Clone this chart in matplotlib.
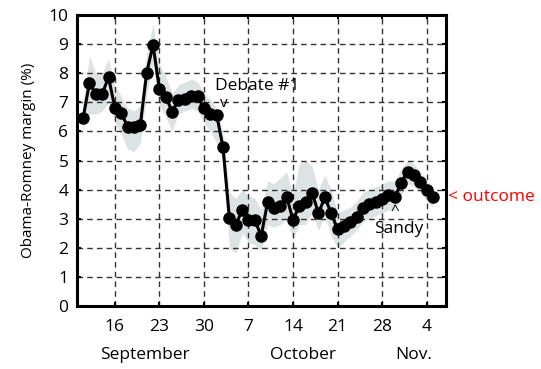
import matplotlib
matplotlib.use("Agg")
import matplotlib.pyplot as plt
import matplotlib.transforms as mtransforms
import numpy as np

plt.rcParams["font.family"] = ["Open Sans", "DejaVu Sans"]

# day index counted from Sep 1 (Sep 30 = 30, Oct 1 = 31, Nov 1 = 62)
days = np.arange(11, 67)
margin = [
    6.45, 7.67, 7.29, 7.29, 7.86, 6.81, 6.64, 6.16, 6.16, 6.22,
    8.02, 8.97, 7.45, 7.19, 6.68, 7.08, 7.10, 7.20, 7.22, 6.79,
    6.60, 6.57, 5.45, 3.01, 2.78, 3.30, 2.96, 2.95, 2.41, 3.56,
    3.38, 3.45, 3.76, 2.96, 3.45, 3.58, 3.90, 3.19, 3.73, 3.20,
    2.63, 2.76, 2.90, 3.05, 3.36, 3.50, 3.58, 3.67, 3.81, 3.73,
    4.24, 4.62, 4.50, 4.27, 4.00, 3.76,
]
band_lo = [
    6.1, 6.6, 6.6, 6.7, 7.0, 6.3, 5.9, 5.4, 5.3, 5.6,
    7.3, 8.3, 6.9, 6.5, 6.0, 6.6, 6.7, 6.8, 6.7, 6.3,
    6.0, 5.6, 5.0, 2.0, 1.8, 2.5, 2.2, 2.1, 1.9, 2.8,
    2.7, 2.8, 3.0, 2.3, 2.8, 2.8, 3.2, 2.6, 3.1, 2.4,
    2.0, 2.2, 2.4, 2.6, 2.9, 3.0, 3.1, 3.2, 3.3, 3.3,
    3.8, 4.2, 4.1, 3.9, 3.6, 3.4,
]
band_hi = [
    7.0, 8.6, 8.0, 8.0, 8.5, 7.6, 7.2, 6.8, 6.7, 6.9,
    8.7, 9.7, 8.3, 7.9, 7.3, 7.6, 7.7, 7.8, 7.7, 7.3,
    7.1, 6.8, 5.9, 3.9, 3.7, 4.0, 3.8, 3.7, 3.3, 4.3,
    4.2, 4.4, 4.6, 3.8, 4.9, 5.0, 4.8, 4.0, 4.5, 4.0,
    3.2, 3.3, 3.4, 3.6, 3.9, 4.0, 4.1, 4.2, 4.3, 4.3,
    4.7, 5.0, 4.9, 4.6, 4.3, 4.0,
]

tick_days = [16, 23, 30, 37, 44, 51, 58, 65]
tick_labels = ["16", "23", "30", "7", "14", "21", "28", "4"]
month_names = ["September", "October", "Nov."]
month_pos = [20.7, 45.6, 62.9]

debate_day = 33
sandy_day = 60
outcome = 3.75

fig = plt.figure(figsize=(5.41, 3.69), dpi=100)
ax = fig.add_axes([0.1418, 0.1707, 0.682, 0.7886])

ax.fill_between(days, band_lo, band_hi, color="#dde3e3", lw=0, zorder=1)
ax.plot(days, margin, "-o", color="black", lw=2.2, ms=8, zorder=3)

ax.set_xlim(10, 68)
ax.set_ylim(0, 10)
ax.set_yticks(range(0, 11))
ax.set_xticks(tick_days)
ax.set_xticklabels(tick_labels)
ax.tick_params(direction="in", length=3, width=1.5, labelsize=12.5,
               top=True, right=True)
ax.tick_params(axis="x", pad=9)
ax.tick_params(axis="y", pad=6)
ax.grid(True, color="#333333", ls=(0, (4, 3)), lw=1.0, zorder=0)
for sp in ax.spines.values():
    sp.set_linewidth(2.2)

ax.set_ylabel("Obama-Romney margin (%)", fontsize=11, labelpad=9)

trans = mtransforms.blended_transform_factory(ax.transData, ax.transAxes)
for name, pos in zip(month_names, month_pos):
    ax.text(pos, -0.17, name, transform=trans, ha="center", va="center",
            fontsize=12.5)

ax.text(debate_day + 0.1, 6.95, "v", ha="center", va="center", fontsize=11)
ax.text(debate_day - 1.3, 7.55, "Debate #1", ha="left", va="center", fontsize=12.5)
ax.text(sandy_day, 3.25, "^", ha="center", va="center", fontsize=11)
ax.text(sandy_day + 0.6, 2.65, "Sandy", ha="center", va="center", fontsize=12.5)
ax.text(68.3, outcome, "< outcome", ha="left", va="center", fontsize=12.5,
        color="red", clip_on=False)

fig.savefig("out.png", dpi=100)
